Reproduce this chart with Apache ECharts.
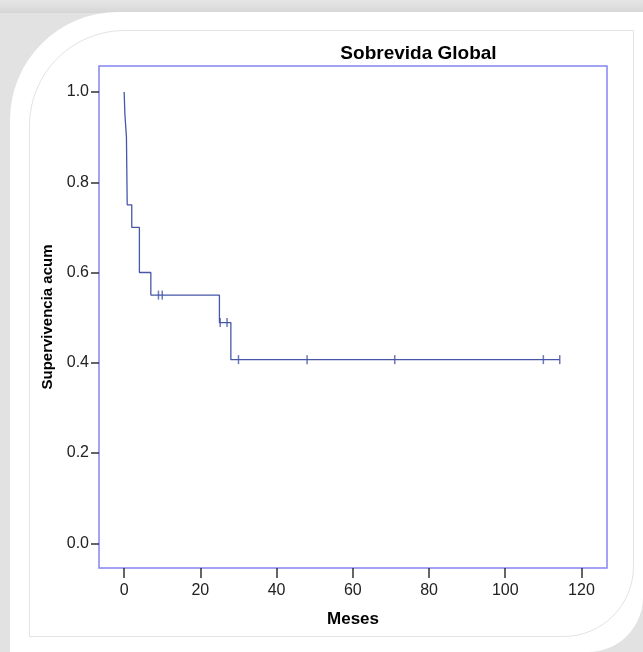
<!DOCTYPE html>
<html>
<head>
<meta charset="utf-8">
<script src="https://cdn.jsdelivr.net/npm/echarts@6/dist/echarts.min.js"></script>
<style>
html,body{margin:0;padding:0;background:#e2e2e2;}
#chart{width:643px;height:652px;}
</style>
</head>
<body>
<div id="chart"></div>
<script>
// Kaplan-Meier step curve (time in months, cumulative survival)
const kmTimes = [0, 0.2, 0.6, 0.8, 2, 4, 7, 25, 28, 114.3];
const kmSurvival = [1.0, 0.95, 0.90, 0.75, 0.70, 0.60, 0.55, 0.489, 0.407, 0.407];
// Censored observations
const censorTimes = [9, 10, 25.2, 27, 30, 48, 71, 110, 114.3];
const censorSurvival = [0.55, 0.55, 0.489, 0.489, 0.407, 0.407, 0.407, 0.407, 0.407];
// Tick labels
const xTicks = [0, 20, 40, 60, 80, 100, 120];
const yTicks = [0, 0.2, 0.4, 0.6, 0.8, 1.0];

const titleText = 'Sobrevida Global';
const xName = 'Meses';
const yName = 'Supervivencia acum';

const chart = echarts.init(document.getElementById('chart'));
const lineColor = '#4657a8';
const narrow = '"Liberation Sans Narrow", "Arial Narrow", "Liberation Sans", Arial, sans-serif';
const sans = '"Liberation Sans", Arial, sans-serif';

chart.setOption({
  backgroundColor: '#e2e2e2',
  animation: false,
  graphic: [
    { type: 'rect', z: -20, silent: true,
      shape: { x: 0, y: 0, width: 643, height: 13 },
      style: { fill: new echarts.graphic.LinearGradient(0, 0, 0, 1, [{offset: 0, color: '#e6e6e6'}, {offset: 1, color: '#d6d6d6'}]) } },
    { type: 'rect', z: -19, silent: true,
      shape: { x: 10, y: 12, width: 633, height: 640, r: [108, 0, 55, 0] },
      style: { fill: '#ffffff' } },
    { type: 'rect', z: -18, silent: true,
      shape: { x: 29.5, y: 30.5, width: 604, height: 606, r: [95, 0, 70, 0] },
      style: { fill: 'none', stroke: '#e3e3e3', lineWidth: 1 } }
  ],
  title: {
    text: titleText,
    left: 413.5,
    top: 39,
    textAlign: 'center',
    textStyle: { fontFamily: sans, fontWeight: 'bold', fontSize: 19, color: '#000' }
  },
  grid: {
    left: 99, right: 36, top: 66, bottom: 84,
    show: true, backgroundColor: '#ffffff',
    borderColor: '#8585f2', borderWidth: 1.5
  },
  xAxis: {
    type: 'value', min: -6.6, max: 126.7,
    name: xName, nameLocation: 'middle', nameGap: 43,
    nameTextStyle: { fontFamily: sans, fontWeight: 'bold', fontSize: 17, color: '#000' },
    axisLine: { show: false, onZero: false },
    splitLine: { show: false },
    axisTick: { show: true, customValues: xTicks, length: 10, lineStyle: { color: '#333', width: 1.5 } },
    axisLabel: { customValues: xTicks, margin: 15, fontFamily: narrow, fontSize: 16, color: '#222' }
  },
  yAxis: {
    type: 'value', min: -0.0547, max: 1.0576,
    name: yName, nameLocation: 'middle', nameGap: 44, nameRotate: 90,
    nameTextStyle: { fontFamily: sans, fontWeight: 'bold', fontSize: 15, color: '#000' },
    axisLine: { show: false, onZero: false },
    splitLine: { show: false },
    axisTick: { show: true, customValues: yTicks, length: 8, lineStyle: { color: '#333', width: 1.5 } },
    axisLabel: { customValues: yTicks, margin: 10, fontFamily: narrow, fontSize: 16, color: '#222',
      formatter: v => Number(v).toFixed(1) }
  },
  series: [
    {
      type: 'line', step: 'end', showSymbol: false, symbol: 'none',
      data: kmTimes.map((t, i) => [t, kmSurvival[i]]),
      lineStyle: { color: lineColor, width: 1.3 },
      z: 3
    },
    {
      type: 'scatter', symbol: 'rect', symbolSize: [1.5, 9],
      data: censorTimes.map((t, i) => [t, censorSurvival[i]]),
      itemStyle: { color: lineColor },
      z: 4
    }
  ]
});
</script>
</body>
</html>
